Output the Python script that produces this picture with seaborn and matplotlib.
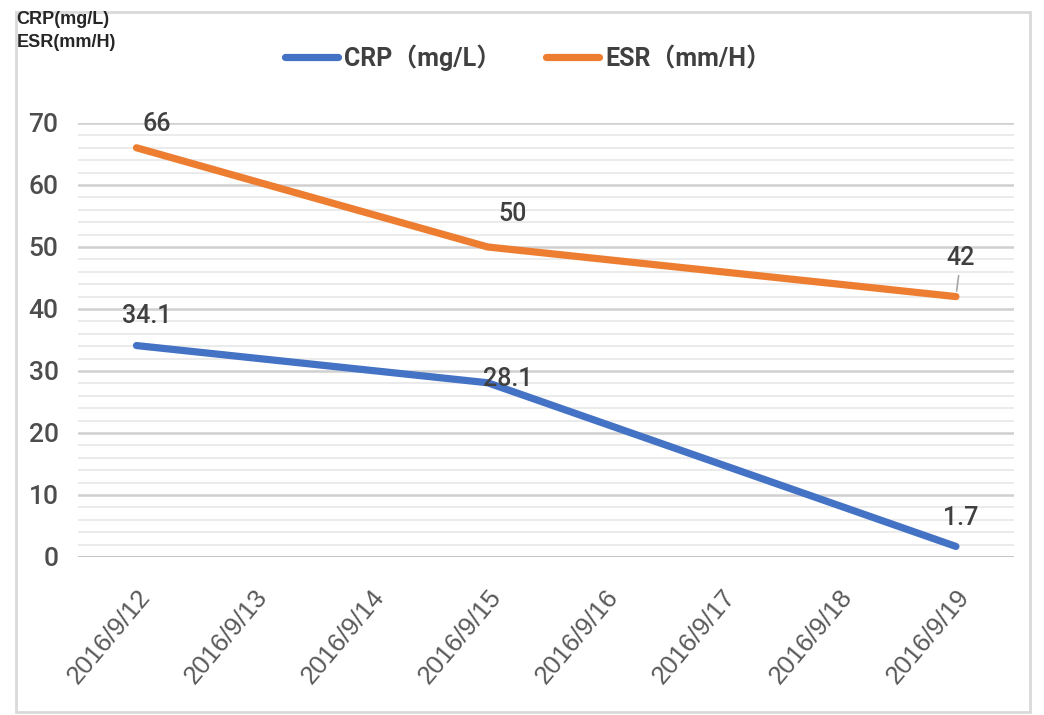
import numpy as np
import pandas as pd
import matplotlib
matplotlib.use("Agg")
import matplotlib.pyplot as plt
from matplotlib.patches import Rectangle
import seaborn as sns

# data
dates = ["2016/9/12", "2016/9/13", "2016/9/14", "2016/9/15",
         "2016/9/16", "2016/9/17", "2016/9/18", "2016/9/19"]
sample_dates = ["2016/9/12", "2016/9/15", "2016/9/19"]
crp = [34.1, 28.1, 1.7]
esr = [66, 50, 42]

crp_label = "CRP（mg/L）"
esr_label = "ESR（mm/H）"

sns.set_style("white")
plt.rcParams["font.family"] = ["Roboto", "Noto Sans CJK SC", "DejaVu Sans"]

df = pd.DataFrame({
    "pos": [dates.index(d) for d in sample_dates] * 2,
    "value": crp + esr,
    "series": [crp_label] * len(crp) + [esr_label] * len(esr),
})

fig = plt.figure(figsize=(10.44, 7.15), dpi=100)
ax = fig.add_axes([0.0747, 0.221, 0.897, 0.607])

sns.lineplot(data=df, x="pos", y="value", hue="series",
             palette={crp_label: "#4472C4", esr_label: "#ED7D31"},
             linewidth=5.2, ax=ax, legend=False, solid_capstyle="round")

# grid: minor every 2, major every 10
for y in np.arange(2, 71, 2):
    major = (y % 10 == 0)
    ax.axhline(y, color="#d0d0d0" if major else "#e8e8e8",
               lw=1.8 if major else 1.2, zorder=0)
ax.axhline(0, color="#bfbfbf", lw=2, zorder=0)

ax.set_xlim(-0.5, len(dates) - 0.5)
ax.set_ylim(0, 70)
ax.set_yticks(np.arange(0, 71, 10))
ax.set_yticklabels([str(v) for v in range(0, 71, 10)], fontsize=19,
                   color="#4d4d4d", fontweight="medium")
ax.set_xticks(range(len(dates)))
ax.set_xticklabels(dates, rotation=50, ha="right", rotation_mode="anchor",
                   fontsize=18.5, color="#595959",
                   family=["Liberation Sans", "DejaVu Sans"])
ax.set_xticks(np.arange(-0.5, len(dates), 1), minor=True)
ax.tick_params(axis="x", which="major", length=0, pad=20)
ax.tick_params(axis="x", which="minor", length=8, width=1.5, color="#bfbfbf", direction="out")
ax.tick_params(axis="y", length=0, pad=14)
ax.set_xlabel("")
ax.set_ylabel("")
for s in ax.spines.values():
    s.set_visible(False)

# data labels
crp_off = [(10, 30), (20, 4), (5, 28)]
esr_off = [(20, 24), (25, 33), (5, 39)]
for d, v, off in zip(sample_dates, crp, crp_off):
    ax.annotate(f"{v:g}", (dates.index(d), v), xytext=off, textcoords="offset pixels",
                ha="center", va="center", fontsize=18, color="#404040", fontweight="medium")
for d, v, off in zip(sample_dates, esr, esr_off):
    arrow = dict(arrowstyle="-", color="#a6a6a6", lw=1.2, shrinkA=2, shrinkB=4) if v == esr[-1] else None
    ax.annotate(f"{v:g}", (dates.index(d), v), xytext=off, textcoords="offset pixels",
                ha="center", va="center", fontsize=18, color="#404040", fontweight="medium",
                arrowprops=arrow)

# legend
handles = [plt.Line2D([], [], color="#4472C4", lw=5.2, solid_capstyle="round"),
           plt.Line2D([], [], color="#ED7D31", lw=5.2, solid_capstyle="round")]
fig.legend(handles, [crp_label, esr_label], loc="center", bbox_to_anchor=(0.506, 0.919),
           ncol=2, frameon=False, handlelength=2.1, columnspacing=1.8,
           handletextpad=0.25, labelcolor="#404040",
           prop={"size": 18, "weight": "bold", "family": ["Roboto", "Noto Sans CJK SC"]})

fig.text(0.016, 0.985, "CRP(mg/L)\nESR(mm/H)", ha="left", va="top", fontsize=13,
         fontweight="bold", color="#262626", linespacing=1.45,
         family=["Liberation Sans", "DejaVu Sans"])

# frame around the chart
fig.patches.append(Rectangle((0.015, 0.004), 0.972, 0.979, transform=fig.transFigure,
                             fill=False, edgecolor="#d9d9d9", lw=2))

fig.savefig("out.png", dpi=100)
